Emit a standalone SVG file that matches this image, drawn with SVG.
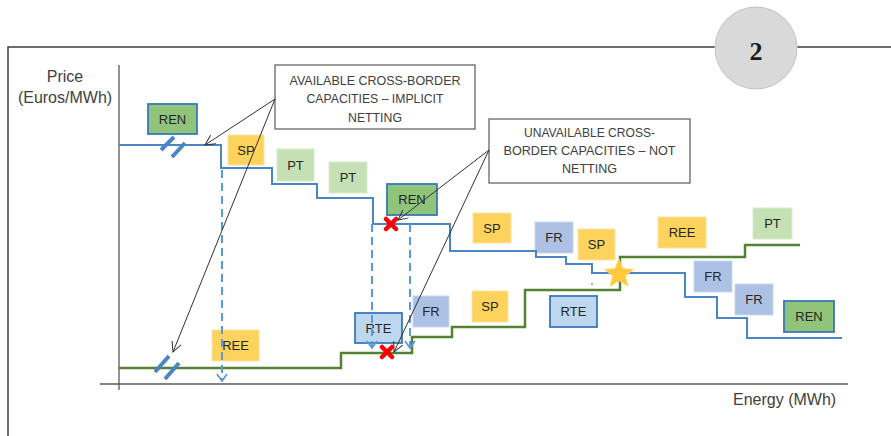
<svg xmlns="http://www.w3.org/2000/svg" width="891" height="436" viewBox="0 0 891 436">
<style>
.lbl{font-family:"Liberation Sans",Arial,sans-serif;font-size:13px;fill:#262626;text-anchor:middle}
.axis{font-family:"Liberation Sans",Arial,sans-serif;font-size:16px;fill:#404040}
.call{font-family:"Liberation Sans",Arial,sans-serif;font-size:13.5px;fill:#404040;text-anchor:middle}
.ren{fill:#8fc47a;stroke:#3a78b8;stroke-width:1.8}
.yel{fill:#fdd35e;stroke:#fbe3a0;stroke-width:1}
.pt{fill:#c5e0b4;stroke:#d6ebc8;stroke-width:1}
.fr{fill:#adc1e4;stroke:#c9d7ef;stroke-width:1}
.rte{fill:#bdd7ee;stroke:#3a78b8;stroke-width:1.8}
.cbox{fill:#fff;stroke:#595959;stroke-width:1.2}
.blue{fill:none;stroke:#4a86c5;stroke-width:2}
.green{fill:none;stroke:#548235;stroke-width:2.5}
.dash{fill:none;stroke:#5b9bd5;stroke-width:2;stroke-dasharray:8 5}
.chev{fill:none;stroke:#5b9bd5;stroke-width:1.8}
.brk{stroke:#4a86c5;stroke-width:4}
.arr{fill:none;stroke:#333;stroke-width:1;marker-end:url(#ah)}
.x{stroke:#ff0000;stroke-width:4.5;stroke-linecap:round}
</style>
<defs>
<marker id="ah" markerUnits="userSpaceOnUse" markerWidth="12" markerHeight="12" refX="10" refY="5" orient="auto">
<path d="M0,0 L10,5 L0,10" fill="none" stroke="#333" stroke-width="1"/>
</marker>
</defs>
<rect width="891" height="436" fill="#fff"/>
<g id="frame">
<path d="M8,436 V47 H716 M797,47 H891" fill="none" stroke="#404040" stroke-width="1.5"/>
<circle cx="756" cy="48" r="41" fill="#d9d9d9" stroke="#c4c4c4" stroke-width="1"/>
<text x="756" y="60" font-family="'Liberation Serif',serif" font-weight="bold" font-size="26" fill="#1a1a1a" text-anchor="middle">2</text>
</g>
<g id="axes">
<path d="M119,65 V390 M100,384 H848" fill="none" stroke="#595959" stroke-width="1.3"/>
<text class="axis" x="65" y="82" text-anchor="middle">Price</text>
<text class="axis" x="65" y="103" text-anchor="middle">(Euros/MWh)</text>
<text class="axis" x="733" y="405">Energy (MWh)</text>
</g>
<g id="n-ren1"><rect class="ren" x="148" y="104" width="49" height="30"/><text class="lbl" x="172.5" y="124">REN</text></g>
<g id="n-sp1"><rect class="yel" x="228" y="135" width="36" height="30"/><text class="lbl" x="246" y="155">SP</text></g>
<g id="n-pt1"><rect class="pt" x="277" y="149" width="37" height="32"/><text class="lbl" x="295.5" y="170">PT</text></g>
<g id="n-pt2"><rect class="pt" x="329" y="162" width="38" height="31"/><text class="lbl" x="348" y="182">PT</text></g>
<g id="n-ren2"><rect class="ren" x="387" y="184" width="50" height="31"/><text class="lbl" x="412" y="204">REN</text></g>
<g id="n-sp2"><rect class="yel" x="473" y="213" width="38" height="30"/><text class="lbl" x="492" y="233">SP</text></g>
<g id="n-fr1"><rect class="fr" x="535" y="222" width="38" height="31"/><text class="lbl" x="554" y="242">FR</text></g>
<g id="n-sp3"><rect class="yel" x="578" y="229" width="37" height="31"/><text class="lbl" x="596.5" y="249">SP</text></g>
<g id="n-ree1"><rect class="yel" x="658" y="217" width="48" height="31"/><text class="lbl" x="682" y="237">REE</text></g>
<g id="n-pt3"><rect class="pt" x="753" y="208" width="39" height="31"/><text class="lbl" x="772.5" y="228">PT</text></g>
<g id="n-fr2"><rect class="fr" x="694" y="261" width="38" height="31"/><text class="lbl" x="713" y="281">FR</text></g>
<g id="n-fr3"><rect class="fr" x="735" y="284" width="38" height="31"/><text class="lbl" x="754" y="304">FR</text></g>
<g id="n-ren3"><rect class="ren" x="784" y="301" width="50" height="31"/><text class="lbl" x="809" y="321">REN</text></g>
<g id="n-rte2"><rect class="rte" x="550" y="296" width="47" height="31"/><text class="lbl" x="573.5" y="316">RTE</text></g>
<g id="n-sp4"><rect class="yel" x="472" y="291" width="36" height="31"/><text class="lbl" x="490" y="311">SP</text></g>
<g id="n-fr4"><rect class="fr" x="413" y="296" width="36" height="31"/><text class="lbl" x="431" y="316">FR</text></g>
<g id="n-rte1"><rect class="rte" x="355" y="313" width="47" height="30"/><text class="lbl" x="378.5" y="333">RTE</text></g>
<g id="n-ree2"><rect class="yel" x="212" y="330" width="47" height="31"/><text class="lbl" x="235.5" y="350">REE</text></g>
<g id="curves">
<path class="blue" d="M119,145 H221 V168 H272 V184 H317 V198 H373 V224 H450 V251 H536 V257 H566 V264 H592 V273 H685 V297 H717 V318 H747 V338 H842"/>
<path class="green" d="M119,368 H341 V353 H412 V337 H452 V327 H525 V290 H620 V257 H745 V245 H800"/>
<path class="dash" d="M222,170 V380 M372,224 V347 M410,224 V347"/>
<path class="chev" d="M217,374 L222,381 L227,374 M367,341 L372,348 L377,341 M405,341 L410,348 L415,341"/>
<path class="brk" d="M161,150 L174,137 M172,157 L185,143 M155,372 L169,356 M165,379 L179,363"/>
<circle cx="592" cy="284" r="0.9" fill="#888"/>
<polygon points="619,259 622.8,268.7 633.3,269.4 625.2,276 627.8,286.1 619,280.5 610.2,286.1 612.8,276 604.7,269.4 615.2,268.7" fill="#ffc83d" stroke="#ffd45e" stroke-width="1"/>
</g>
<g id="callout1"><rect class="cbox" x="275" y="65" width="200" height="64"/>
<text class="call" x="375" y="85" textLength="171" lengthAdjust="spacingAndGlyphs">AVAILABLE CROSS-BORDER</text>
<text class="call" x="375" y="103" textLength="137" lengthAdjust="spacingAndGlyphs">CAPACITIES – IMPLICIT</text>
<text class="call" x="375" y="122" textLength="54" lengthAdjust="spacingAndGlyphs">NETTING</text></g>
<g id="callout2"><rect class="cbox" x="489" y="119" width="201" height="64"/>
<text class="call" x="589.5" y="137" textLength="131" lengthAdjust="spacingAndGlyphs">UNAVAILABLE CROSS-</text>
<text class="call" x="589.5" y="155" textLength="172" lengthAdjust="spacingAndGlyphs">BORDER CAPACITIES – NOT</text>
<text class="call" x="589.5" y="173" textLength="55" lengthAdjust="spacingAndGlyphs">NETTING</text></g>
<g id="connectors">
<path class="arr" d="M275,99 L205,145"/>
<path class="arr" d="M275,99 L173,352"/>
<path class="arr" d="M489,150 L398,220"/>
<path class="arr" d="M489,150 L394,352"/>
</g>
<g id="marks">
<path class="x" d="M386,219 L396,229 M396,219 L386,229 M382,347 L392,357 M392,347 L382,357"/>
</g>
</svg>
